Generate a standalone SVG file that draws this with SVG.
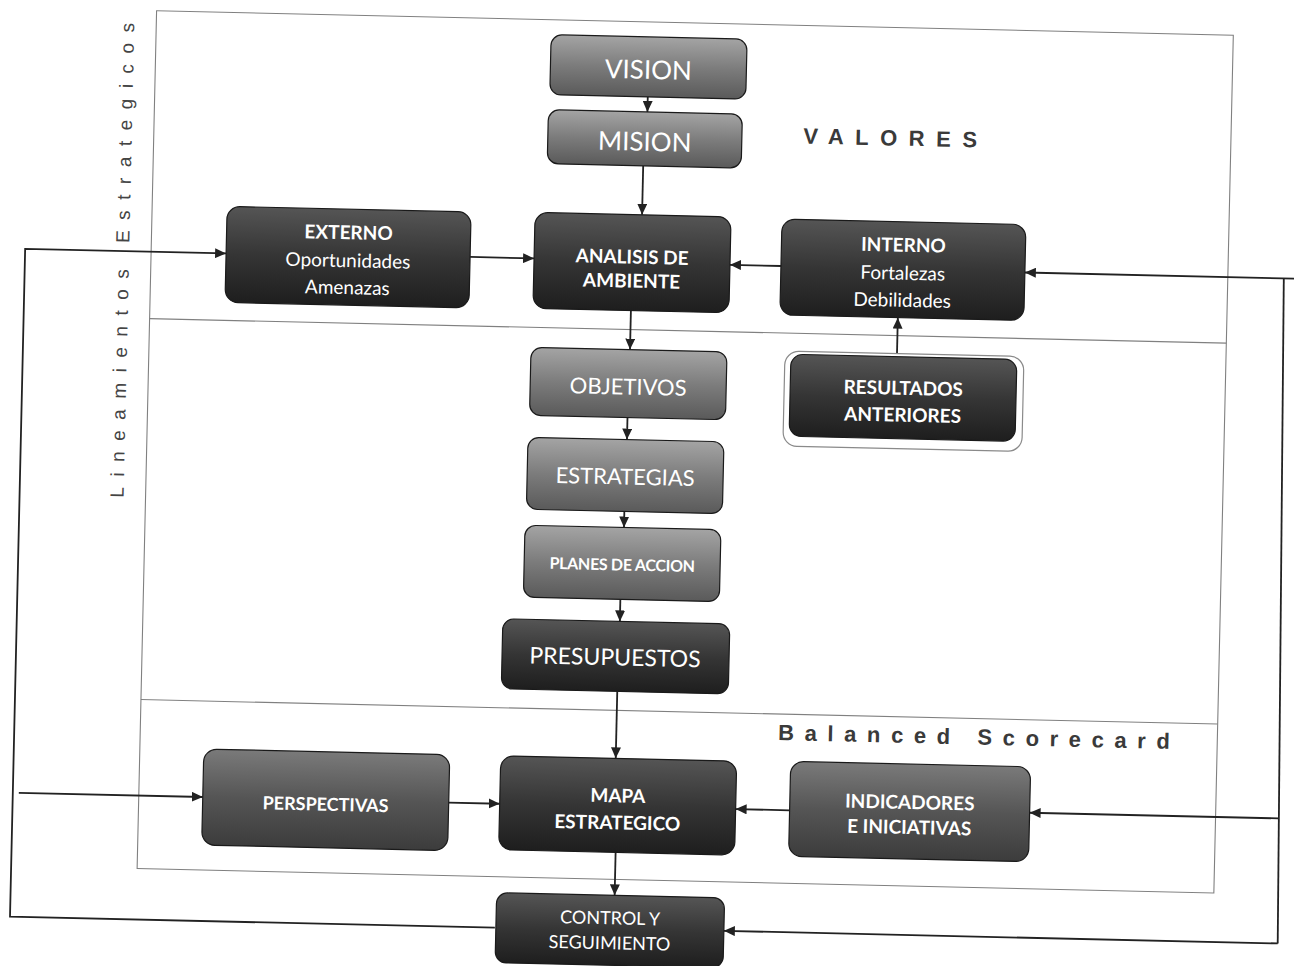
<svg xmlns="http://www.w3.org/2000/svg" width="1294" height="966" viewBox="0 0 1294 966">
  <defs>
    <linearGradient id="gLight" x1="0" y1="0" x2="0" y2="1">
      <stop offset="0" stop-color="#a4a4a4"/>
      <stop offset="0.5" stop-color="#7c7c7c"/>
      <stop offset="1" stop-color="#5a5a5a"/>
    </linearGradient>
    <linearGradient id="gMid" x1="0" y1="0" x2="0" y2="1">
      <stop offset="0" stop-color="#7a7a7a"/>
      <stop offset="0.5" stop-color="#555555"/>
      <stop offset="1" stop-color="#3c3c3c"/>
    </linearGradient>
    <linearGradient id="gDark" x1="0" y1="0" x2="0" y2="1">
      <stop offset="0" stop-color="#555555"/>
      <stop offset="0.5" stop-color="#353535"/>
      <stop offset="1" stop-color="#1e1e1e"/>
    </linearGradient>
    <marker id="arr" markerUnits="userSpaceOnUse" markerWidth="12" markerHeight="10" refX="11" refY="5" orient="auto">
      <path d="M0,0 L11,5 L0,10 Z" fill="#222"/>
    </marker>
    <style>
      .box { stroke: #1a1a1a; stroke-width: 1.2; }
      .light { fill: url(#gLight); }
      .mid { fill: url(#gMid); }
      .dark { fill: url(#gDark); }
      .t { font-family: Lato, "Open Sans", "DejaVu Sans", sans-serif; fill: #ffffff; text-anchor: middle; }
      .b { font-weight: bold; }
      .frame { fill: none; stroke: #808080; stroke-width: 1.1; }
      .conn { fill: none; stroke: #222; stroke-width: 1.8; }
      .lbl { font-family: "Liberation Sans", Arial, sans-serif; font-weight: bold; fill: #3a3a3a; text-anchor: middle; }
      .vlbl { font-family: "Liberation Sans", Arial, sans-serif; fill: #444; text-anchor: middle; }
    </style>
  </defs>
  <rect width="1294" height="966" fill="#ffffff"/>
  <g transform="rotate(1.3 647 483)">
    <g id="frames">
      <rect class="frame" x="146" y="22" width="1077" height="858"/>
      <line class="frame" x1="146" y1="330" x2="1223" y2="330"/>
      <line class="frame" x1="146" y1="711" x2="1223" y2="711"/>
    </g>
    <g id="labels">
      <text class="lbl" x="888" y="140" font-size="22" letter-spacing="11.5">VALORES</text>
      <text class="lbl" x="985" y="737" font-size="22" letter-spacing="10.6">Balanced Scorecard</text>
      <text class="vlbl" transform="translate(124,267) rotate(-90)" font-size="19" letter-spacing="10.5">Lineamientos  Estrategicos</text>
    </g>
    <g id="connectors">
      <line class="conn" x1="639" y1="97" x2="639" y2="112" marker-end="url(#arr)"/>
      <line class="conn" x1="636" y1="166" x2="636" y2="215" marker-end="url(#arr)"/>
      <line class="conn" x1="627" y1="311" x2="627" y2="350" marker-end="url(#arr)"/>
      <line class="conn" x1="626" y1="418" x2="626" y2="440" marker-end="url(#arr)"/>
      <line class="conn" x1="625" y1="512" x2="625" y2="528" marker-end="url(#arr)"/>
      <line class="conn" x1="623" y1="600" x2="623" y2="622" marker-end="url(#arr)"/>
      <line class="conn" x1="622" y1="692" x2="622" y2="759" marker-end="url(#arr)"/>
      <line class="conn" x1="624" y1="853" x2="624" y2="896" marker-end="url(#arr)"/>
      <line class="conn" x1="894" y1="351" x2="894" y2="312" marker-end="url(#arr)"/>
      <line class="conn" x1="465" y1="261" x2="529" y2="261" marker-end="url(#arr)"/>
      <line class="conn" x1="776" y1="263" x2="725" y2="263" marker-end="url(#arr)"/>
      <line class="conn" x1="456" y1="807" x2="507" y2="807" marker-end="url(#arr)"/>
      <line class="conn" x1="797" y1="807" x2="743" y2="807" marker-end="url(#arr)"/>
      <polyline class="conn" points="505,931 20,931 20,263 221,263" marker-end="url(#arr)"/>
      <line class="conn" x1="26" y1="807" x2="210" y2="807" marker-end="url(#arr)"/>
      <polyline class="conn" points="1290,264 1020,264" marker-end="url(#arr)"/>
      <line class="conn" x1="1279" y1="264" x2="1288" y2="929"/>
      <line class="conn" x1="1286" y1="804" x2="1037" y2="804" marker-end="url(#arr)"/>
      <line class="conn" x1="1288" y1="929" x2="734" y2="929" marker-end="url(#arr)"/>
    </g>
    <g id="vision">
      <rect class="box light" x="541" y="37" width="196" height="60" rx="11"/>
      <text class="t" x="639" y="79" font-size="26">VISION</text>
    </g>
    <g id="mision">
      <rect class="box light" x="540" y="112" width="194" height="54" rx="11"/>
      <text class="t" x="637" y="151" font-size="26">MISION</text>
    </g>
    <g id="analisis">
      <rect class="box dark" x="529" y="215" width="196" height="96" rx="13"/>
      <text class="t b" x="627" y="264" font-size="19">ANALISIS DE</text>
      <text class="t b" x="627" y="288" font-size="19">AMBIENTE</text>
    </g>
    <g id="externo">
      <rect class="box dark" x="221" y="216" width="244" height="96" rx="13"/>
      <text class="t b" x="343" y="246" font-size="19">EXTERNO</text>
      <text class="t" x="343" y="274" font-size="19">Oportunidades</text>
      <text class="t" x="343" y="301" font-size="19">Amenazas</text>
    </g>
    <g id="interno">
      <rect class="box dark" x="776" y="216" width="244" height="96" rx="13"/>
      <text class="t b" x="898" y="246" font-size="19">INTERNO</text>
      <text class="t" x="898" y="274" font-size="19">Fortalezas</text>
      <text class="t" x="898" y="301" font-size="19">Debilidades</text>
    </g>
    <g id="objetivos">
      <rect class="box light" x="528" y="350" width="196" height="68" rx="11"/>
      <text class="t" x="626" y="395" font-size="22">OBJETIVOS</text>
    </g>
    <g id="estrategias">
      <rect class="box light" x="527" y="440" width="196" height="72" rx="11"/>
      <text class="t" x="625" y="485" font-size="22">ESTRATEGIAS</text>
    </g>
    <g id="planes">
      <rect class="box light" x="526" y="528" width="196" height="72" rx="11"/>
      <text class="t b" x="624" y="571" font-size="16" letter-spacing="-0.3">PLANES DE ACCION</text>
    </g>
    <g id="presupuestos">
      <rect class="box dark" x="506" y="622" width="227" height="70" rx="11"/>
      <text class="t" x="619" y="666" font-size="23">PRESUPUESTOS</text>
    </g>
    <g id="resultados">
      <rect x="782" y="348" width="239" height="95" rx="14" fill="#ffffff" stroke="#8a8a8a" stroke-width="1.2"/>
      <rect class="box dark" x="788" y="351" width="226" height="82" rx="12"/>
      <text class="t b" x="901" y="389" font-size="19">RESULTADOS</text>
      <text class="t b" x="901" y="416" font-size="19">ANTERIORES</text>
    </g>
    <g id="perspectivas">
      <rect class="box mid" x="210" y="759" width="246" height="96" rx="13"/>
      <text class="t b" x="333" y="818" font-size="18">PERSPECTIVAS</text>
    </g>
    <g id="mapa">
      <rect class="box dark" x="507" y="759" width="236" height="94" rx="13"/>
      <text class="t b" x="625" y="803" font-size="19">MAPA</text>
      <text class="t b" x="625" y="830" font-size="19">ESTRATEGICO</text>
    </g>
    <g id="indicadores">
      <rect class="box mid" x="797" y="758" width="240" height="95" rx="13"/>
      <text class="t b" x="917" y="803" font-size="19">INDICADORES</text>
      <text class="t b" x="917" y="828" font-size="19">E INICIATIVAS</text>
    </g>
    <g id="control">
      <rect class="box dark" x="506" y="896" width="228" height="70" rx="11"/>
      <text class="t" x="620" y="925" font-size="18">CONTROL Y</text>
      <text class="t" x="620" y="950" font-size="18">SEGUIMIENTO</text>
    </g>
  </g>
</svg>
